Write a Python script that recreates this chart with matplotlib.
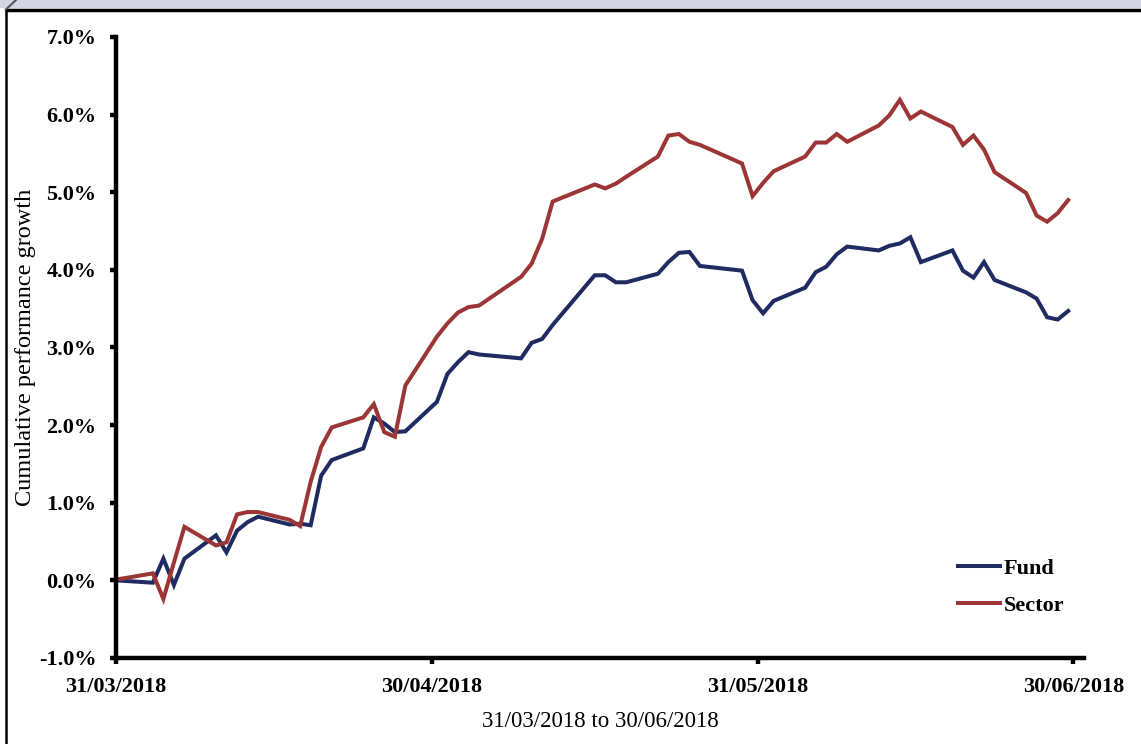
import matplotlib
matplotlib.use("Agg")
import matplotlib.pyplot as plt
import matplotlib.dates as mdates
from matplotlib.lines import Line2D
from matplotlib.patches import Rectangle
from matplotlib.ticker import FuncFormatter
import pandas as pd

plt.rcParams['font.family'] = ['Liberation Serif', 'DejaVu Serif']

# Days after 31/03/2018 on which a value is shown
day_offsets = [0, 3, 4, 5, 6, 9, 10, 11, 12, 13, 16, 17, 18, 19, 20, 23, 24, 25, 26, 27,
               30, 31, 32, 33, 34, 38, 39, 40, 41, 45, 46, 47, 48, 51, 52, 53, 54, 55,
               59, 60, 61, 62, 65, 66, 67, 68, 69, 72, 73, 74, 75, 76, 79, 80, 81, 82, 83,
               86, 87, 88, 89, 90]

# Cumulative growth, %
fund = [0.00, -0.03, 0.28, -0.06, 0.28, 0.58, 0.36, 0.64, 0.75, 0.82, 0.72, 0.73, 0.71, 1.35,
        1.55, 1.70, 2.10, 2.02, 1.91, 1.92, 2.30, 2.66, 2.81, 2.94, 2.91, 2.86, 3.06, 3.11,
        3.29, 3.93, 3.93, 3.84, 3.84, 3.95, 4.10, 4.22, 4.23, 4.05, 3.99, 3.61, 3.44, 3.60,
        3.77, 3.97, 4.04, 4.20, 4.30, 4.25, 4.31, 4.34, 4.42, 4.10, 4.25, 3.99, 3.90, 4.10,
        3.87, 3.71, 3.63, 3.39, 3.36, 3.47]
sector = [0.01, 0.09, -0.24, 0.23, 0.69, 0.45, 0.49, 0.85, 0.88, 0.88, 0.78, 0.70, 1.27, 1.72,
          1.97, 2.10, 2.27, 1.91, 1.85, 2.51, 3.14, 3.31, 3.45, 3.52, 3.54, 3.91, 4.08, 4.40,
          4.88, 5.10, 5.05, 5.11, 5.20, 5.46, 5.73, 5.75, 5.65, 5.61, 5.37, 4.95, 5.12, 5.27,
          5.46, 5.64, 5.64, 5.75, 5.65, 5.86, 5.99, 6.19, 5.95, 6.04, 5.84, 5.61, 5.73, 5.55,
          5.26, 4.99, 4.70, 4.62, 4.73, 4.90]

tick_dates = ['2018-03-31', '2018-04-30', '2018-05-31', '2018-06-30']

start = pd.Timestamp('2018-03-31')
# daily closes sit at midday; the opening value sits on the start date itself
dates = [start if d == 0 else start + pd.Timedelta(days=d, hours=12) for d in day_offsets]

fig = plt.figure(figsize=(11.41, 7.44), dpi=100)
ax = fig.add_axes([0.1017, 0.1156, 0.8483, 0.8347])

ax.plot(dates, fund, color='#1f2b61', lw=2.9, label='Fund', solid_joinstyle='miter')
ax.plot(dates, sector, color='#9c3636', lw=2.9, label='Sector', solid_joinstyle='miter')

ax.set_xlim(start, pd.Timestamp('2018-07-01'))
ax.set_ylim(-1.0, 7.0)
ax.set_yticks([-1, 0, 1, 2, 3, 4, 5, 6, 7])
ax.yaxis.set_major_formatter(FuncFormatter(lambda v, p: f'{v:.1f}%'))
ax.set_xticks([pd.Timestamp(t) for t in tick_dates])
ax.xaxis.set_major_formatter(mdates.DateFormatter('%d/%m/%Y'))

for s in ['top', 'right']:
    ax.spines[s].set_visible(False)
for s in ['left', 'bottom']:
    ax.spines[s].set_linewidth(3.2)
ax.tick_params(axis='both', width=3.2, length=4, labelsize=16, direction='out')
ax.tick_params(axis='y', pad=10)
ax.tick_params(axis='x', pad=10)
for lab in ax.get_xticklabels() + ax.get_yticklabels():
    lab.set_fontweight('bold')

ax.set_ylabel('Cumulative performance growth', fontsize=17.5, labelpad=2)
ax.set_xlabel('31/03/2018 to 30/06/2018', fontsize=16.5, labelpad=10)

leg = ax.legend(loc='lower right', bbox_to_anchor=(1.0, 0.035), frameon=False,
                fontsize=16, handlelength=1.9, handletextpad=0.15, labelspacing=0.75)
for t in leg.get_texts():
    t.set_fontweight('bold')

# outer panel frame
fig.patches.append(Rectangle((0, 0.99), 1, 0.01, transform=fig.transFigure,
                             color='#d3d6e2', zorder=0))
fig.lines.append(Line2D([0.006, 1], [0.987, 0.987], transform=fig.transFigure,
                        color='black', lw=2.5))
fig.lines.append(Line2D([0.005, 0.005], [0, 0.987], transform=fig.transFigure,
                        color='black', lw=1.8))
fig.lines.append(Line2D([0.005, 0.014], [0.987, 1.0], transform=fig.transFigure,
                        color='#555555', lw=1.5))

fig.savefig('out.png', dpi=100)
